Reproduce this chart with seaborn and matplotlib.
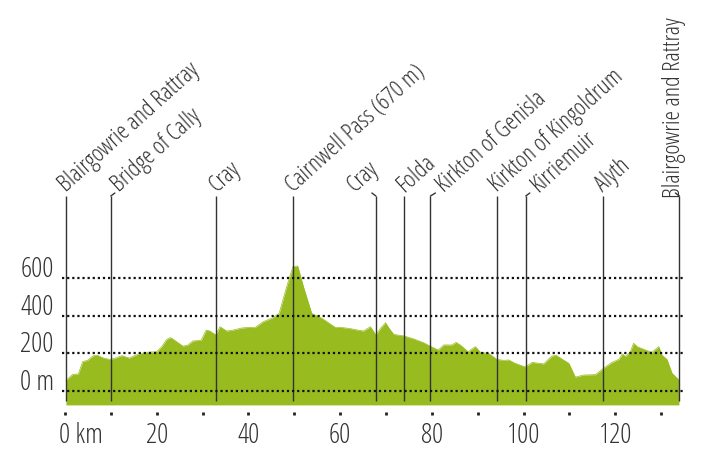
import matplotlib
matplotlib.use("Agg")
import matplotlib.pyplot as plt
from matplotlib.transforms import ScaledTranslation
import seaborn as sns

km = [0.2,1.1,1.7,2.9,3.85,4.9,6.2,7.05,8.4,9.8,10.9,12.4,14.0,16.0,17.8,20.0,21.1,22.2,23.05,24,25.7,26.7,27.9,29.7,30.8,31.6,32.9,33.8,35.25,36.7,38.5,40.35,41.4,43.25,45.1,46.7,48.35,49.7,50.75,52,53.8,56,58.9,60,62.2,63.6,65.1,66.6,67.8,68.8,69.9,70.7,71.7,73.9,76.05,78.2,79.7,81.4,82.6,84.4,85.3,86.4,87.9,89.5,90.6,92.4,94.2,95.7,96.8,98.2,100.4,101.9,104.4,106.2,107.1,109.9,111.3,113.1,115.7,117.5,119.3,120.8,121.6,122.2,123.3,124,124.8,126.6,128,129.5,130.2,131.3,132.4,133.9]
elev = [55,76,89,90,156,163,188,190,175,168,174,188,175,197,206,209,236,275,284,268,239,243,266,270,324,319,298,342,319,324,335,339,337,369,387,413,555,661,665,555,413,387,339,339,332,325,319,342,298,333,363,333,301,293,277,257,238,218,245,245,259,241,209,236,206,200,168,163,165,147,128,152,144,186,190,147,74,85,87,122,152,168,197,183,209,254,236,218,206,236,191,168,94,59]
floor_elev = -74
places = ["Blairgowrie and Rattray","Bridge of Cally","Cray","Cairnwell Pass (670 m)","Cray","Folda","Kirkton of Genisla","Kirkton of Kingoldrum","Kirriemuir","Alyth","Blairgowrie and Rattray"]
place_km = [0.2,10,33,49.7,67.8,73.9,79.7,94.2,100.5,117.4,134]
hook_px = [0,4,0,0,-4,0,5,0,4,0,-4]
label_dx_px = [0,8,0,0,-21,0,14,0,12,0,1]
label_rot = [42,42,42,42,42,42,42,42,42,42,90]
x_ticks = list(range(0,131,10))
x_labels = ["0 km","","20","","40","","60","","80","","100","","120",""]
y_ticks = [0,200,400,600]
y_labels = ["0 m","200","400","600"]

W,H = 712,468
PX_KM, PX_M = 4.585, 0.188
sns.set_theme(style="white")
plt.rcParams['font.family'] = ['Open Sans','DejaVu Sans']
plt.rcParams['font.stretch'] = 'extra-condensed'
INK = "#333333"
FS, FS_LABEL = 20, 17.5
fig = plt.figure(figsize=(W/100,H/100),dpi=100)
L,R,B,T = 62,685,412,196
ax = fig.add_axes([L/W,1-B/H,(R-L)/W,(B-T)/H])
ax.set_xlim((L-65)/PX_KM,(R-65)/PX_KM)
ax.set_ylim((391-B)/PX_M,(391-T)/PX_M)
ax.fill_between(km,elev,floor_elev,color="#98bb1f",lw=0,zorder=1)
sns.lineplot(x=km,y=elev,color="#98bb1f",lw=0.5,ax=ax,zorder=1)
top_val = (391-T)/PX_M
low_val = -53
for k,p,hk,dx,rot in zip(place_km,places,hook_px,label_dx_px,label_rot):
    ax.plot([k,k],[low_val,top_val],color=INK,lw=1,zorder=2,clip_on=False,solid_capstyle="butt")
    if hk:
        ax.plot([k,k+hk/PX_KM],[top_val,top_val+3/PX_M],color=INK,lw=1,clip_on=False,zorder=2)
    off = (dx*0.72,2.5) if rot==42 else (dx*0.72,-1.5)
    ax.annotate(p,xy=(k,top_val),xytext=off,textcoords="offset points",rotation=rot,rotation_mode="anchor",
                ha="left",va="baseline",fontsize=FS_LABEL,color=INK,annotation_clip=False,
                family=['Open Sans','DejaVu Sans'],stretch='extra-condensed')
for v in y_ticks:
    ax.axhline(v,color="#111111",lw=1.6,ls=(0,(1,1.3)),zorder=3)
ax.set_xticks(x_ticks,x_labels)
ax.set_yticks(y_ticks,y_labels)
ax.tick_params(axis="x",length=2,width=2,color="#222222",pad=5,labelsize=FS,labelcolor=INK,bottom=True)
ax.tick_params(axis="y",length=0,pad=6,labelsize=FS,labelcolor=INK)
for t in ax.get_yticklabels():
    t.set_va("bottom")
    t.set_stretch('extra-condensed')
    t.set_transform(t.get_transform()+ScaledTranslation(0,-6/100,fig.dpi_scale_trans))
for t in ax.get_xticklabels():
    t.set_stretch('extra-condensed')
first = ax.get_xticklabels()[0]
first.set_ha("left")
first.set_transform(first.get_transform()+ScaledTranslation(-6/100,0,fig.dpi_scale_trans))
sns.despine(ax=ax,left=True,bottom=True)
ax.patch.set_alpha(0)
ax.grid(False)
fig.savefig("out.png",dpi=100,facecolor="white")
